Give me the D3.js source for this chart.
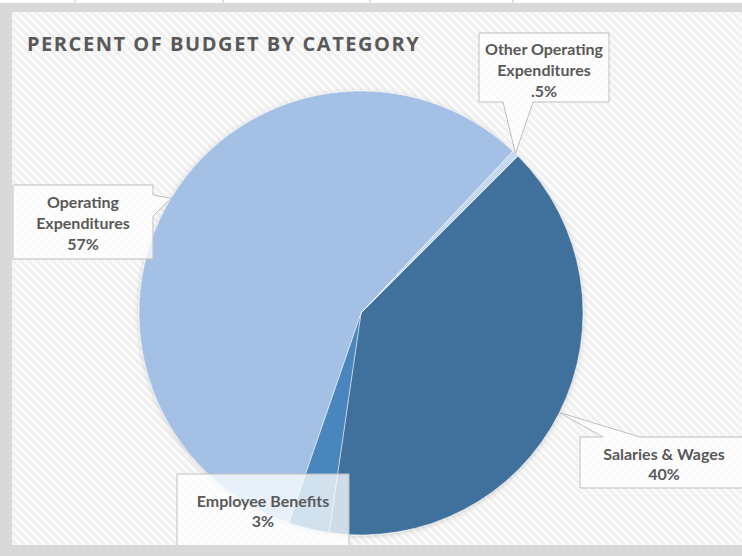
<!DOCTYPE html>
<html>
<head>
<meta charset="utf-8">
<script src="https://cdn.jsdelivr.net/npm/d3@7"></script>
<style>
  body { margin: 0; background: #d9d9d9; }
  svg { display: block; }
</style>
</head>
<body>
<svg id="chart" width="742" height="556"></svg>
<script>
// ---- data ----
const categories = ["Salaries & Wages", "Employee Benefits", "Operating Expenditures", "Other Operating Expenditures"];
const percents = [40, 3, 57, 0.5];
const percentLabels = ["40%", "3%", "57%", ".5%"];
const labelLines = [["Salaries & Wages"], ["Employee Benefits"], ["Operating", "Expenditures"], ["Other Operating", "Expenditures"]];
const sliceColors = ["#41719c", "#4a86bd", "#a4c1e5", "#c6d7ee"];
const titleText = "PERCENT OF BUDGET BY CATEGORY";

// ---- layout ----
const W = 742, H = 556;
const area = { x: 12, y: 12, w: 730, h: 533 };
const pieCenter = [361, 313];
const pieRadius = 222;
// callout boxes: box rect, side with the pointer, pointer base span, text centre, first baseline, line height
const callouts = [
  { x: 580, y: 437, w: 175, h: 51, side: "top", base: [603, 640], cx: 664, y0: 460, lh: 20 },
  { x: 177, y: 474, w: 172, h: 80, side: "none", base: null, cx: 263, y0: 507, lh: 20 },
  { x: 13, y: 185, w: 140, h: 74, side: "right", base: [195, 216], cx: 83, y0: 208, lh: 21 },
  { x: 479, y: 33, w: 130, h: 69, side: "bottom", base: [503, 533], cx: 544, y0: 55, lh: 21 }
];

const svg = d3.select("#chart");
const defs = svg.append("defs");

// diagonal hatch background
const pat = defs.append("pattern")
  .attr("id", "hatch").attr("patternUnits", "userSpaceOnUse")
  .attr("width", 8).attr("height", 8);
pat.append("rect").attr("width", 8).attr("height", 8).attr("fill", "#fafafa");
pat.append("path")
  .attr("d", "M-2,-2 L10,10 M-2,6 L2,10 M6,-2 L10,2")
  .attr("stroke", "#eeeeee").attr("stroke-width", 2.2);

defs.append("clipPath").attr("id", "areaClip")
  .append("rect").attr("x", area.x).attr("y", area.y).attr("width", area.w).attr("height", area.h);

const shadow = defs.append("filter").attr("id", "pieShadow")
  .attr("x", "-10%").attr("y", "-10%").attr("width", "120%").attr("height", "120%");
shadow.append("feDropShadow").attr("dx", 0).attr("dy", 1).attr("stdDeviation", 2.5)
  .attr("flood-color", "#000").attr("flood-opacity", 0.18);

// spreadsheet strip above the chart
svg.append("rect").attr("x", 0).attr("y", 0).attr("width", W).attr("height", 3).attr("fill", "#ffffff");
svg.selectAll("line.cell").data([75, 223, 370, 513]).join("line")
  .attr("class", "cell")
  .attr("x1", d => d).attr("x2", d => d).attr("y1", 0).attr("y2", 3)
  .attr("stroke", "#c8c8c8");

const g = svg.append("g").attr("clip-path", "url(#areaClip)");
g.append("rect").attr("x", area.x).attr("y", area.y).attr("width", area.w).attr("height", area.h)
  .attr("fill", "url(#hatch)");

// title
g.append("text")
  .attr("x", 27).attr("y", 51)
  .attr("font-family", "'Open Sans', sans-serif")
  .attr("font-weight", 700)
  .attr("font-size", 20)
  .attr("letter-spacing", 1.55)
  .attr("fill", "#595959")
  .text(titleText);

// pie
const pie = d3.pie().sort(null).value(d => d)
  .startAngle(Math.PI / 4).endAngle(Math.PI / 4 + 2 * Math.PI);
const arcs = pie(percents);
const arc = d3.arc().innerRadius(0).outerRadius(pieRadius);

const pg = g.append("g").attr("transform", `translate(${pieCenter[0]},${pieCenter[1]})`);
pg.append("g").attr("filter", "url(#pieShadow)")
  .selectAll("path").data(arcs).join("path")
  .attr("d", arc)
  .attr("fill", (d, i) => sliceColors[i])
  .attr("stroke", "#ffffff").attr("stroke-opacity", 0.6).attr("stroke-width", 0.8);

// callouts
function tipFor(d) {
  const a = (d.startAngle + d.endAngle) / 2;
  return [pieCenter[0] + pieRadius * Math.sin(a), pieCenter[1] - pieRadius * Math.cos(a)];
}
function calloutPath(c, tip) {
  const { x, y, w, h } = c;
  const p = d3.path();
  p.moveTo(x, y);
  if (c.side === "top") {
    p.lineTo(c.base[0], y); p.lineTo(tip[0], tip[1]); p.lineTo(c.base[1], y);
  }
  p.lineTo(x + w, y);
  if (c.side === "right") {
    p.lineTo(x + w, c.base[0]); p.lineTo(tip[0], tip[1]); p.lineTo(x + w, c.base[1]);
  }
  p.lineTo(x + w, y + h);
  if (c.side === "bottom") {
    p.lineTo(c.base[1], y + h); p.lineTo(tip[0], tip[1]); p.lineTo(c.base[0], y + h);
  }
  p.lineTo(x, y + h);
  p.closePath();
  return p.toString();
}

const lg = g.append("g");
arcs.forEach((d, i) => {
  const c = callouts[i];
  const tip = tipFor(d);
  lg.append("path")
    .attr("d", calloutPath(c, tip))
    .attr("fill", "#ffffff").attr("fill-opacity", 0.75)
    .attr("stroke", "#bfbfbf").attr("stroke-width", 1);
  const lines = labelLines[i].concat([percentLabels[i]]);
  const t = lg.append("text")
    .attr("text-anchor", "middle")
    .attr("font-family", "Lato, 'Open Sans', sans-serif")
    .attr("font-weight", 700)
    .attr("font-size", 16)
    .attr("fill", "#595959");
  lines.forEach((s, k) => {
    t.append("tspan").attr("x", c.cx).attr("y", c.y0 + k * c.lh).text(s);
  });
});
</script>
</body>
</html>
